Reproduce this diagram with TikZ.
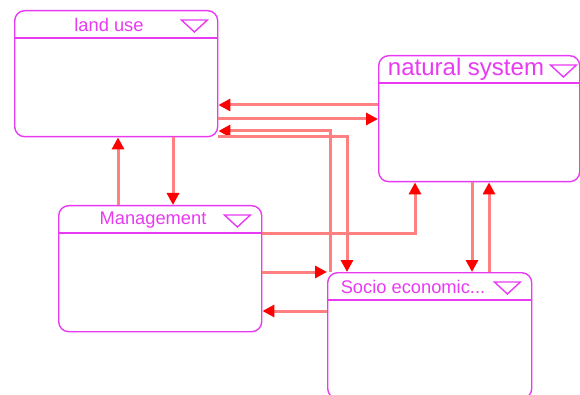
\documentclass[tikz,border=0pt]{standalone}
\usepackage{fontspec}
\setmainfont{Liberation Sans}
\usetikzlibrary{arrows.meta}
\definecolor{boxpink}{RGB}{232,58,242}
\definecolor{linkred}{RGB}{255,128,128}

\begin{document}
\begin{tikzpicture}[x=1pt,y=-1pt,
		modbox/.style={draw=boxpink, line width=1.4pt, rounded corners=10pt, minimum width=203pt, minimum height=126pt, inner sep=0pt, anchor=north west},
		boxline/.style={draw=boxpink, line width=1.4pt},
		title/.style={text=boxpink, inner sep=0pt, font=\fontsize{18.3}{21}\selectfont},
		link/.style={linkred, line width=3pt, -{Triangle[length=12pt,width=12pt,color=red]}}]
		\useasboundingbox (0,0) rectangle (580,395);
		% the four modules
		\node[modbox] (landuse) at (14,10) {};
		\node[modbox, minimum width=201pt] (natural) at (378,55) {};
		\node[modbox] (mgmt) at (58,205) {};
		\node[modbox, minimum width=204pt] (socio) at (327,272) {};
		\foreach \b/\d in {landuse/-37pt, natural/-30pt, mgmt/-38pt, socio/-38pt} {
			\draw[boxline] ([yshift=-28pt]\b.north west) -- ([yshift=-28pt]\b.north east);
			\draw[boxline] ([xshift=\d,yshift=-10pt]\b.north east) -- ++(26,0) -- ++(-13,12) -- cycle;
		}
		\node[title] (landuseT) at (109,25) {land use};
		\node[title, font=\fontsize{24}{27}\selectfont] (naturalT) at (466,69) {natural system};
		\node[title] (mgmtT) at (153,220) {Management};
		\node[title] (socioT) at (413,286.5) {Socio economic...};
		% links
		\draw[link] (natural.west |- 0,105) -- (landuse.east |- 0,105);
		\draw[link] (landuse.east |- 0,119) -- (natural.west |- 0,119);
		\draw[link] (330,0 |- socio.north) -- (330,131) -- (landuse.east |- 0,131);
		\draw[link] (landuse.east |- 0,137) -- (347,137) -- (347,0 |- socio.north);
		\draw[link] (173,0 |- landuse.south) -- (173,0 |- mgmt.north);
		\draw[link] (118,0 |- mgmt.north) -- (118,0 |- landuse.south);
		\draw[link] (mgmt.east |- 0,233) -- (415,233) -- (415,0 |- natural.south);
		\draw[link] (mgmt.east |- 0,272) -- (socio.west |- 0,272);
		\draw[link] (socio.west |- 0,311) -- (mgmt.east |- 0,311);
		\draw[link] (472,0 |- natural.south) -- (472,0 |- socio.north);
		\draw[link] (489,0 |- socio.north) -- (489,0 |- natural.south);
	\end{tikzpicture}
\end{document}
